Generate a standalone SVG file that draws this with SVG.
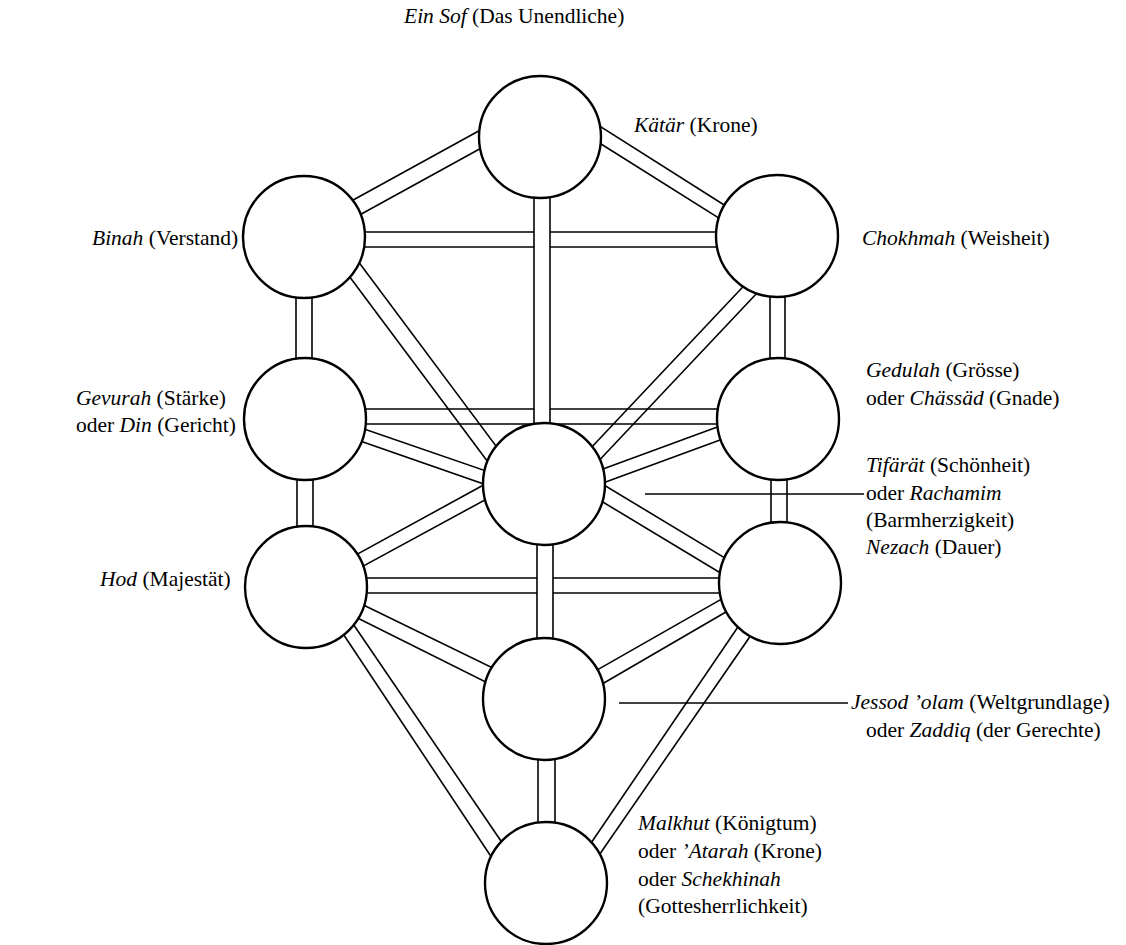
<svg xmlns="http://www.w3.org/2000/svg" width="1126" height="945" viewBox="0 0 1126 945">
<style>
.ln{stroke:#000;stroke-width:1.6;fill:none;stroke-linecap:butt}
.wb{fill:#fff;stroke:none}
.nd{fill:#fff;stroke:#000;stroke-width:2.4}
.t{font-family:"Liberation Serif","Times New Roman",serif;font-size:21.5px;fill:#000}
.i{font-style:italic}
</style>
<rect width="1126" height="945" fill="#fff"/>
<g id="connectors">
  <!-- Kätär-Binah -->
  <line class="ln" x1="500" y1="119.3" x2="330" y2="212.8"/>
  <line class="ln" x1="500" y1="137.7" x2="330" y2="231.2"/>
  <!-- Kätär-Chokhmah -->
  <line class="ln" x1="580" y1="113.6" x2="740" y2="215"/>
  <line class="ln" x1="580" y1="130.7" x2="740" y2="231.4"/>
  <!-- Binah-Chokhmah -->
  <line class="ln" x1="330" y1="232" x2="750" y2="232"/>
  <line class="ln" x1="330" y1="247" x2="750" y2="247"/>
  <!-- Binah-Tifärät -->
  <line class="ln" x1="337.1" y1="260" x2="493.9" y2="470"/>
  <line class="ln" x1="353.4" y1="255" x2="513.9" y2="470"/>
  <!-- Chokhmah-Tifärät -->
  <line class="ln" x1="758.8" y1="270" x2="570.1" y2="470"/>
  <line class="ln" x1="778.8" y1="270" x2="590.1" y2="470"/>
  <!-- Gevurah-Gedulah -->
  <line class="ln" x1="330" y1="409" x2="750" y2="409"/>
  <line class="ln" x1="330" y1="424" x2="750" y2="424"/>
  <!-- Gevurah-Tifärät -->
  <line class="ln" x1="330" y1="417.3" x2="520" y2="482.7"/>
  <line class="ln" x1="330" y1="430.6" x2="520" y2="496.5"/>
  <!-- Gedulah-Tifärät -->
  <line class="ln" x1="560" y1="484.8" x2="750" y2="415.1"/>
  <line class="ln" x1="560" y1="498.8" x2="750" y2="429.1"/>
  <!-- Tifärät-Hod -->
  <line class="ln" x1="330" y1="569.1" x2="520" y2="465"/>
  <line class="ln" x1="330" y1="584.1" x2="520" y2="480.9"/>
  <!-- Tifärät-Nezach -->
  <line class="ln" x1="560" y1="458.5" x2="750" y2="573.1"/>
  <line class="ln" x1="560" y1="476.2" x2="750" y2="590.7"/>
  <!-- Hod-Nezach -->
  <line class="ln" x1="330" y1="578" x2="750" y2="578"/>
  <line class="ln" x1="330" y1="593" x2="750" y2="593"/>
  <!-- Hod-Jessod -->
  <line class="ln" x1="330" y1="588.8" x2="520" y2="681.3"/>
  <line class="ln" x1="330" y1="604.2" x2="520" y2="699.2"/>
  <!-- Nezach-Jessod -->
  <line class="ln" x1="560" y1="691.1" x2="750" y2="582.9"/>
  <line class="ln" x1="560" y1="708.5" x2="750" y2="598"/>
  <!-- Hod-Malkhut -->
  <line class="ln" x1="347" y1="615" x2="520.7" y2="870"/>
  <line class="ln" x1="333.9" y1="620" x2="500" y2="870"/>
  <!-- Nezach-Malkhut -->
  <line class="ln" x1="756.3" y1="600" x2="572.7" y2="870"/>
  <line class="ln" x1="775.2" y1="600" x2="588.8" y2="870"/>
  <!-- vertical paths -->
  <rect class="wb" x="534" y="180" width="16" height="260"/>
  <line class="ln" x1="534" y1="180" x2="534" y2="440"/>
  <line class="ln" x1="550" y1="180" x2="550" y2="440"/>
  <rect class="wb" x="537" y="530" width="16" height="120"/>
  <line class="ln" x1="537" y1="530" x2="537" y2="650"/>
  <line class="ln" x1="553" y1="530" x2="553" y2="650"/>
  <rect class="wb" x="538" y="740" width="17" height="100"/>
  <line class="ln" x1="538" y1="740" x2="538" y2="840"/>
  <line class="ln" x1="555" y1="740" x2="555" y2="840"/>
  <line class="ln" x1="296" y1="280" x2="296" y2="380"/>
  <line class="ln" x1="312" y1="280" x2="312" y2="380"/>
  <line class="ln" x1="297" y1="460" x2="297" y2="545"/>
  <line class="ln" x1="313" y1="460" x2="313" y2="545"/>
  <line class="ln" x1="770" y1="280" x2="770" y2="380"/>
  <line class="ln" x1="785" y1="280" x2="785" y2="380"/>
  <line class="ln" x1="771" y1="460" x2="771" y2="545"/>
  <line class="ln" x1="787" y1="460" x2="787" y2="545"/>
  <!-- label leaders -->
  <line class="ln" x1="645" y1="494" x2="864" y2="494"/>
  <line class="ln" x1="619" y1="703" x2="848" y2="703"/>
</g>
<text class="t" x="404" y="23"><tspan class="i">Ein Sof</tspan> (Das Unendliche)</text>
<g id="katar">
  <circle class="nd" cx="540" cy="137" r="61"/>
  <text class="t" x="634" y="132"><tspan class="i">Kätär</tspan> (Krone)</text>
</g>
<g id="binah">
  <circle class="nd" cx="304" cy="237" r="61"/>
  <text class="t" x="92" y="245"><tspan class="i">Binah</tspan> (Verstand)</text>
</g>
<g id="chokhmah">
  <circle class="nd" cx="777" cy="236" r="61"/>
  <text class="t" x="862" y="245"><tspan class="i">Chokhmah</tspan> (Weisheit)</text>
</g>
<g id="gevurah">
  <circle class="nd" cx="305" cy="419" r="61"/>
  <text class="t" x="76" y="405"><tspan class="i">Gevurah</tspan> (Stärke)</text>
  <text class="t" x="76" y="432">oder <tspan class="i">Din</tspan> (Gericht)</text>
</g>
<g id="gedulah">
  <circle class="nd" cx="778" cy="419" r="61"/>
  <text class="t" x="866" y="377"><tspan class="i">Gedulah</tspan> (Grösse)</text>
  <text class="t" x="866" y="405">oder <tspan class="i">Chässäd</tspan> (Gnade)</text>
</g>
<g id="tifaret">
  <circle class="nd" cx="544" cy="484" r="61"/>
  <text class="t" x="866" y="472"><tspan class="i">Tifärät</tspan> (Schönheit)</text>
  <text class="t" x="866" y="500">oder <tspan class="i">Rachamim</tspan></text>
  <text class="t" x="866" y="527">(Barmherzigkeit)</text>
</g>
<g id="hod">
  <circle class="nd" cx="306" cy="587" r="61"/>
  <text class="t" x="100" y="586"><tspan class="i">Hod</tspan> (Majestät)</text>
</g>
<g id="nezach">
  <circle class="nd" cx="780" cy="583" r="61"/>
  <text class="t" x="866" y="554"><tspan class="i">Nezach</tspan> (Dauer)</text>
</g>
<g id="jessod">
  <circle class="nd" cx="544" cy="699" r="61"/>
  <text class="t" x="851" y="709"><tspan class="i">Jessod ’olam</tspan> (Weltgrundlage)</text>
  <text class="t" x="866" y="737">oder <tspan class="i">Zaddiq</tspan> (der Gerechte)</text>
</g>
<g id="malkhut">
  <circle class="nd" cx="546" cy="883" r="61"/>
  <text class="t" x="638" y="830"><tspan class="i">Malkhut</tspan> (Königtum)</text>
  <text class="t" x="638" y="858">oder <tspan class="i">’Atarah</tspan> (Krone)</text>
  <text class="t" x="638" y="886">oder <tspan class="i">Schekhinah</tspan></text>
  <text class="t" x="638" y="913">(Gottesherrlichkeit)</text>
</g>
</svg>
